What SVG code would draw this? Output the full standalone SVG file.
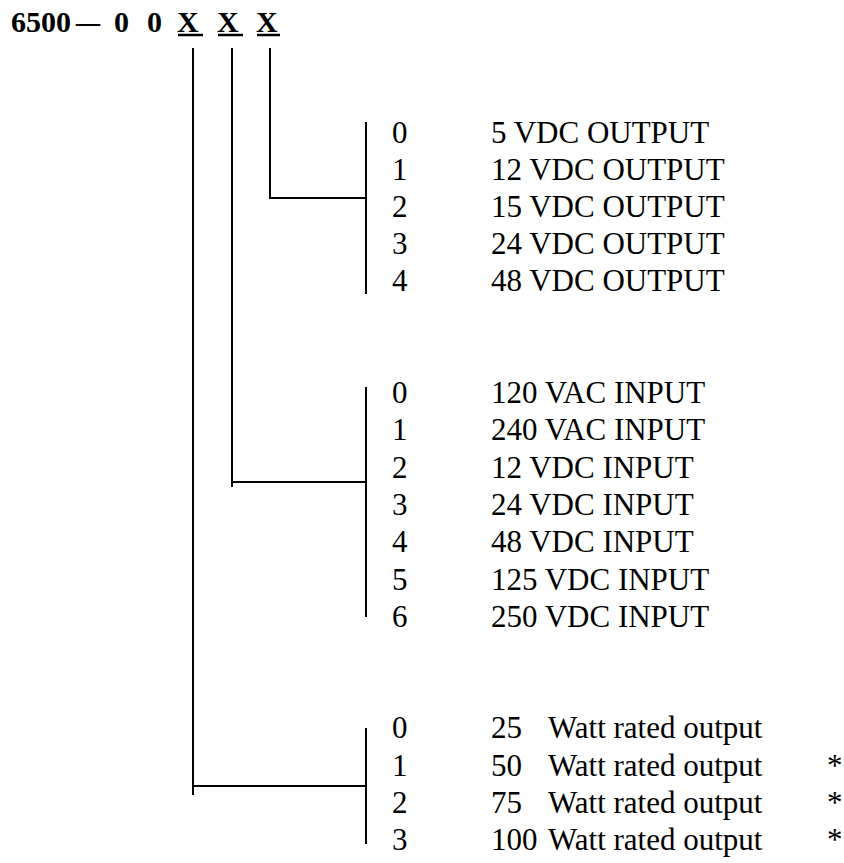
<svg xmlns="http://www.w3.org/2000/svg" width="844" height="863" viewBox="0 0 844 863">
<style>
.t{font-family:"Liberation Serif","Times New Roman",serif;font-size:31px;fill:#000}
.h{font-family:"Liberation Serif","Times New Roman",serif;font-size:30px;font-weight:bold;fill:#000}
.c line{stroke:#000;stroke-width:2;fill:none}
.u{stroke:#000;stroke-width:2.5}
</style>
<rect width="844" height="863" fill="#fff"/>
<g id="title">
<text class="h" x="11" y="32">6500</text>
<text class="h" x="76" y="32" textLength="24" lengthAdjust="spacingAndGlyphs">–</text>
<text class="h" x="114" y="32">0</text>
<text class="h" x="147" y="32">0</text>
<text class="h" x="177" y="32">X</text>
<text class="h" x="217" y="32">X</text>
<text class="h" x="256" y="32">X</text>
<line class="u" x1="178" y1="35" x2="203" y2="35"/>
<line class="u" x1="218" y1="35" x2="243" y2="35"/>
<line class="u" x1="257" y1="35" x2="280" y2="35"/>
</g>
<g class="c" id="connectors">
<line x1="270" y1="48" x2="270" y2="199"/>
<line x1="270" y1="198" x2="366" y2="198"/>
<line x1="366" y1="122" x2="366" y2="294"/>
<line x1="232" y1="48" x2="232" y2="487"/>
<line x1="232" y1="482" x2="366" y2="482"/>
<line x1="366" y1="387" x2="366" y2="617"/>
<line x1="193" y1="48" x2="193" y2="795"/>
<line x1="193" y1="786" x2="366" y2="786"/>
<line x1="366" y1="728" x2="366" y2="844"/>
</g>
<g id="output-voltage">
<text class="t" x="392" y="143">0</text><text class="t" x="491" y="143">5 VDC OUTPUT</text>
<text class="t" x="392" y="180">1</text><text class="t" x="491" y="180">12 VDC OUTPUT</text>
<text class="t" x="392" y="217">2</text><text class="t" x="491" y="217">15 VDC OUTPUT</text>
<text class="t" x="392" y="254">3</text><text class="t" x="491" y="254">24 VDC OUTPUT</text>
<text class="t" x="392" y="291">4</text><text class="t" x="491" y="291">48 VDC OUTPUT</text>
</g>
<g id="input-voltage">
<text class="t" x="392" y="403">0</text><text class="t" x="491" y="403">120 VAC INPUT</text>
<text class="t" x="392" y="440">1</text><text class="t" x="491" y="440">240 VAC INPUT</text>
<text class="t" x="392" y="478">2</text><text class="t" x="491" y="478">12 VDC INPUT</text>
<text class="t" x="392" y="515">3</text><text class="t" x="491" y="515">24 VDC INPUT</text>
<text class="t" x="392" y="552">4</text><text class="t" x="491" y="552">48 VDC INPUT</text>
<text class="t" x="392" y="590">5</text><text class="t" x="491" y="590">125 VDC INPUT</text>
<text class="t" x="392" y="627">6</text><text class="t" x="491" y="627">250 VDC INPUT</text>
</g>
<g id="power-rating">
<text class="t" x="392" y="738">0</text><text class="t" x="491" y="738">25</text><text class="t" x="548" y="738">Watt rated output</text>
<text class="t" x="392" y="776">1</text><text class="t" x="491" y="776">50</text><text class="t" x="548" y="776">Watt rated output</text><text class="t" x="827" y="776">*</text>
<text class="t" x="392" y="813">2</text><text class="t" x="491" y="813">75</text><text class="t" x="548" y="813">Watt rated output</text><text class="t" x="827" y="813">*</text>
<text class="t" x="392" y="850">3</text><text class="t" x="491" y="850">100</text><text class="t" x="548" y="850">Watt rated output</text><text class="t" x="827" y="850">*</text>
</g>
</svg>
